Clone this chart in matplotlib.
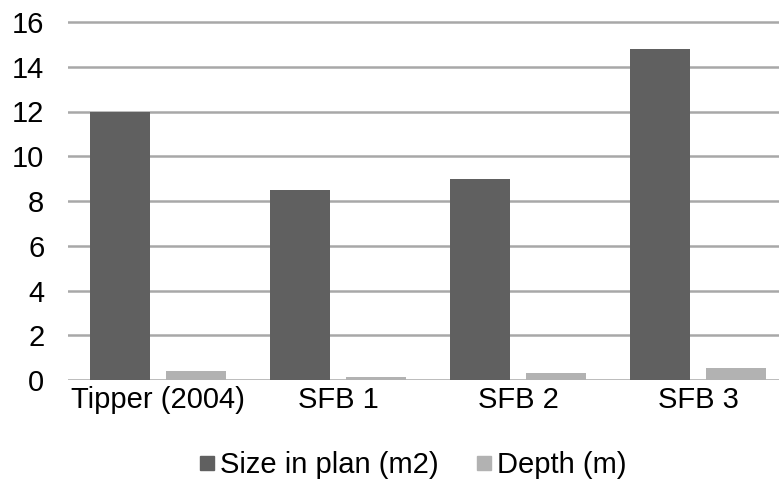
import matplotlib.pyplot as plt
from matplotlib.lines import Line2D
import numpy as np

categories = ['Tipper (2004)', 'SFB 1', 'SFB 2', 'SFB 3']
size_in_plan = [12.0, 8.5, 9.0, 14.8]
depth = [0.4, 0.15, 0.3, 0.55]
y_ticks = [0, 2, 4, 6, 8, 10, 12, 14, 16]

dark = '#606060'
light = '#b2b2b2'
grid_col = '#a8a8a8'

plt.rcParams['font.family'] = ['Liberation Sans', 'DejaVu Sans']

fig = plt.figure(figsize=(7.79, 4.93), dpi=100)
# axes runs a little past the right edge of the figure, like the original export
ax = fig.add_axes([68 / 779, 113 / 493, 720 / 779, 16.05 * 22.375 / 493])

x = np.arange(len(categories))
w = 0.333
ax.bar(x - 0.212, size_in_plan, w, color=dark, zorder=3)
ax.bar(x + 0.21, depth, w, color=light, zorder=3)

ax.set_xlim(-0.5, 3.5)
ax.set_ylim(0, 16.05)
ax.set_yticks(y_ticks)
ax.set_xticks(x)
ax.set_xticklabels(categories)
ax.yaxis.grid(True, color=grid_col, linewidth=1.8, zorder=0)
for s in ax.spines.values():
    s.set_visible(False)
ax.tick_params(axis='both', length=0, labelsize=21, colors='black')
ax.tick_params(axis='y', pad=17)
ax.tick_params(axis='x', pad=4)

handles = [Line2D([], [], marker='s', linestyle='none', markersize=10, color=dark),
           Line2D([], [], marker='s', linestyle='none', markersize=10, color=light)]
fig.legend(handles, ['Size in plan (m2)', 'Depth (m)'], loc='center',
           bbox_to_anchor=(0.529, 1 - 465 / 493), ncol=2, frameon=False,
           fontsize=21, handlelength=0.6, handletextpad=0.15, columnspacing=1.25)

fig.savefig('out.png', dpi=100)
